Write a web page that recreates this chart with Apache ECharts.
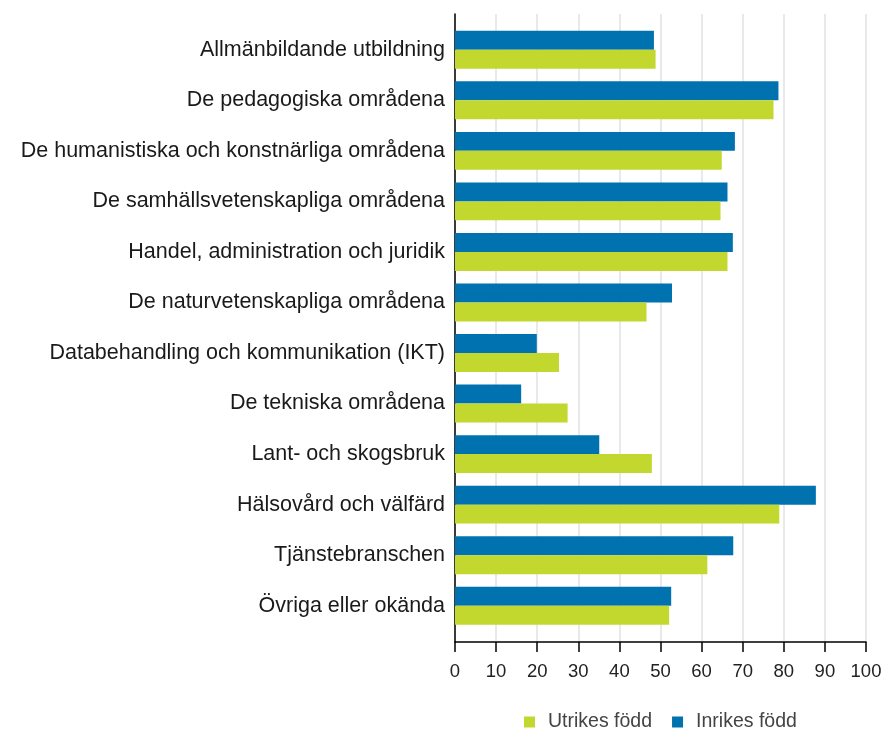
<!DOCTYPE html>
<html>
<head>
<meta charset="utf-8">
<script src="https://cdn.jsdelivr.net/npm/echarts@6/dist/echarts.min.js"></script>
<style>
html,body{margin:0;padding:0;background:#fff;}
#c{width:885px;height:731px;}
</style>
</head>
<body>
<div id="c"></div>
<script>
var categories = [
  'Allmänbildande utbildning',
  'De pedagogiska områdena',
  'De humanistiska och konstnärliga områdena',
  'De samhällsvetenskapliga områdena',
  'Handel, administration och juridik',
  'De naturvetenskapliga områdena',
  'Databehandling och kommunikation (IKT)',
  'De tekniska områdena',
  'Lant- och skogsbruk',
  'Hälsovård och välfärd',
  'Tjänstebranschen',
  'Övriga eller okända'
];
var inrikes = [48.4, 78.7, 68.1, 66.3, 67.6, 52.8, 19.9, 16.1, 35.1, 87.8, 67.7, 52.6];
var utrikes = [48.8, 77.5, 64.9, 64.6, 66.3, 46.6, 25.3, 27.4, 47.9, 78.9, 61.4, 52.1];
var seriesNames = ['Utrikes född', 'Inrikes född'];
var GREEN = '#c3d82e', BLUE = '#0072b0';

var chart = echarts.init(document.getElementById('c'), null, {renderer: 'canvas'});
var font = 'Liberation Sans, Arial, sans-serif';
chart.setOption({
  animation: false,
  legend: {
    data: seriesNames,
    left: 519,
    top: 707,
    itemWidth: 11,
    itemHeight: 11,
    itemGap: 20,
    icon: 'rect',
    textStyle: {fontFamily: font, fontSize: 19.5, color: '#444', padding: [0, 0, 0, 8]}
  },
  grid: [
    {left: 455, right: 19, top: 14, bottom: 89},
    {left: 455, right: 19, top: 24.5, bottom: 100}
  ],
  xAxis: [
    {
      gridIndex: 0, type: 'value', min: 0, max: 100, interval: 10,
      axisLine: {show: true, lineStyle: {color: '#000', width: 1.5}},
      axisTick: {show: true, length: 10, lineStyle: {color: '#000', width: 1.5}},
      axisLabel: {fontFamily: font, fontSize: 18.5, color: '#222', margin: 20},
      splitLine: {show: true, lineStyle: {color: '#e2e2e2', width: 1.5}}
    },
    {
      gridIndex: 1, type: 'value', min: 0, max: 100, show: false
    }
  ],
  yAxis: [
    {
      gridIndex: 0, type: 'value', min: 0, max: 1,
      axisLine: {show: true, lineStyle: {color: '#000', width: 1.5}},
      axisTick: {show: false}, axisLabel: {show: false}, splitLine: {show: false}
    },
    {
      gridIndex: 1, type: 'category', data: categories, inverse: true,
      axisLine: {show: false}, axisTick: {show: false},
      axisLabel: {fontFamily: font, fontSize: 21.5, color: '#1a1a1a', margin: 10}
    }
  ],
  series: [
    {
      name: seriesNames[1], type: 'bar', xAxisIndex: 1, yAxisIndex: 1,
      data: inrikes, barGap: '0%', barCategoryGap: '25%',
      itemStyle: {color: BLUE}
    },
    {
      name: seriesNames[0], type: 'bar', xAxisIndex: 1, yAxisIndex: 1,
      data: utrikes, barGap: '0%', barCategoryGap: '25%',
      itemStyle: {color: GREEN}
    }
  ]
});
</script>
</body>
</html>
